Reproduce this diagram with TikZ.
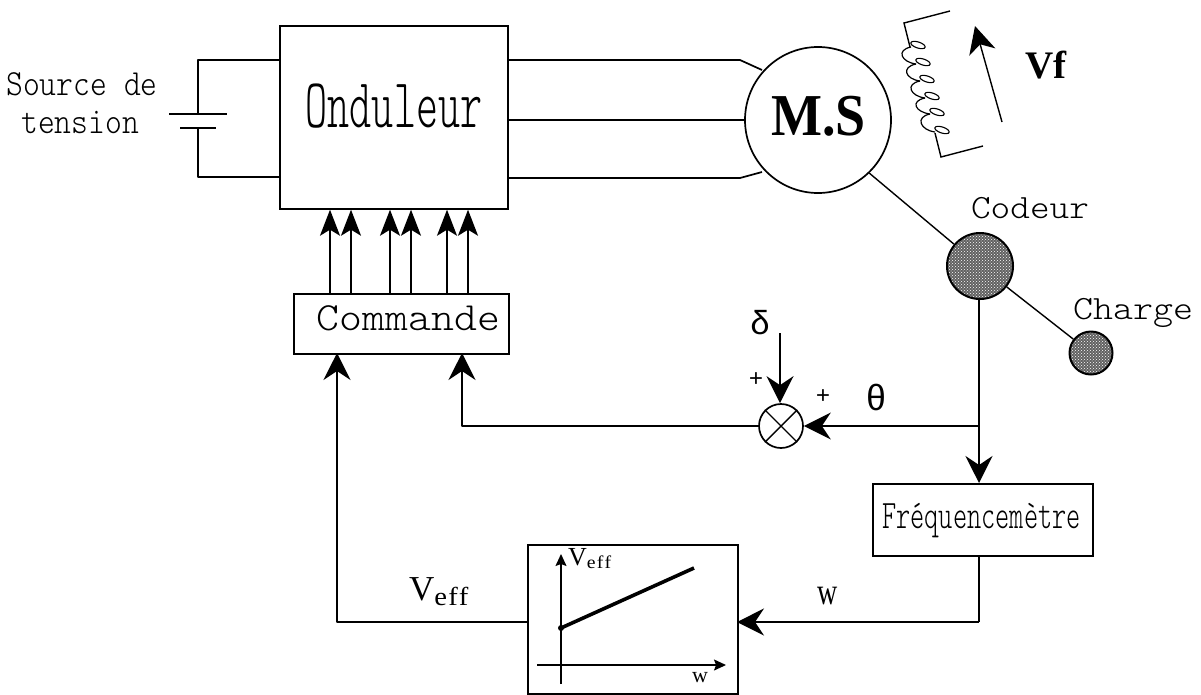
\documentclass[tikz,border=0pt]{standalone}
\usepackage{fontspec}
\setmainfont{Liberation Serif}
\setmonofont{Latin Modern Mono Light}
\newfontfamily\lmono{Liberation Mono}
\usetikzlibrary{arrows.meta,calc,patterns}
\newcommand{\monot}[4]{\scalebox{#2}[#3]{\fontsize{#1}{#1}\selectfont\ttfamily #4}}
\newcommand{\sertxt}[5]{\fontsize{#1}{#1}\selectfont V\raisebox{#5pt}{\scalebox{#3}[1]{\fontsize{#2}{#2}\selectfont e\kern#4pt f\kern#4pt f}}}
\tikzset{
  wire/.style={line width=1.7pt,line join=round},
  flow/.style={wire,-{Stealth[length=27pt,width=27pt,inset=9pt]}},
  cmdflow/.style={wire,-{Stealth[length=26pt,width=20pt,inset=6pt]}},
  smallflow/.style={line width=1.3pt,-{Stealth[length=12pt,width=11pt,inset=2pt]}},
  blockbox/.style={draw,line width=1.7pt,fill=white,inner sep=0pt,anchor=north west},
  txt/.style={inner sep=0pt,align=center},
  base/.style={inner sep=0pt,anchor=base},
  dither/.style={draw,circle,line width=2pt,preaction={fill=black!62},pattern=crosshatch dots,pattern color=white,inner sep=0pt}
}
\begin{document}
\begin{tikzpicture}[x=1pt,y=-1pt]
\useasboundingbox (0,0) rectangle (1201,694);
% blocks
\node[blockbox,minimum width=228pt,minimum height=183pt] (ond) at (279,25) {};
\node[base] (ondt) at (394,127) {\monot{42}{1}{1.67}{Onduleur}};
\node[blockbox,minimum width=215pt,minimum height=60pt] (com) at (293,293) {};
\node[base] (comt) at (408.5,330) {\monot{40}{1.09}{1}{Commande}};
\node[blockbox,minimum width=220pt,minimum height=72pt] (freq) at (872,483) {};
\node[base] (freqt) at (981.5,528) {\monot{27}{1}{1.5}{Fréquencemètre}};
\node[blockbox,minimum width=210pt,minimum height=149pt] (graph) at (527,544) {};
% machines
\node[draw,circle,line width=1.7pt,minimum size=146pt,inner sep=0pt] (ms) at (818,120) {};
\node[base] (mst) at (818.5,135) {\scalebox{1}[1.1]{\fontsize{54}{54}\selectfont\bfseries M.S}};
\node[dither,minimum size=66pt] (cod) at (980,266) {};
\node[dither,minimum size=43pt] (chg) at (1091,353) {};
\node[draw,circle,line width=1.7pt,fill=white,minimum size=44pt,inner sep=0pt] (sum) at (781,426) {};
\draw[line width=1.4pt] (sum.north west)--(sum.south east) (sum.north east)--(sum.south west);
% source
\node[base] (srca) at (82,95) {\monot{32}{1}{1.15}{Source de}};
\node[base] (srcb) at (80,133) {\monot{32}{1}{1.15}{tension}};
\coordinate (plA) at (198,114);
\coordinate (plB) at (198,128);
\coordinate (oa) at (279,60);
\coordinate (ob) at (279,177);
\draw[wire] (oa) -- (198,60) -- (plA);
\draw[wire] (ob) -- (198,177) -- (plB);
\draw[line width=1.3pt] ($(plA)+(-29,0)$) -- ($(plA)+(29,0)$);
\draw[line width=2pt] ($(plB)+(-18,0)$) -- ($(plB)+(18,0)$);
% phases
\coordinate (p1) at (507,60);
\coordinate (p2) at (507,120);
\coordinate (p3) at (507,178);
\draw[wire] (p1) -- (740,60) -- (762,70);
\draw[wire] (p2) -- (ms.west);
\draw[wire] (p3) -- (740,178) -- (762,172);
% shaft
\draw[line width=1.4pt] (ms.-46) -- (cod);
\draw[line width=1.4pt] (cod) -- (chg);
% field coil
\draw[line width=1.4pt] (950,11) -- (904,23) -- (910,47);
\draw[line width=1.4pt] (935,133) -- (941,157) -- (983,146);
\foreach \i/\x/\y in {1/918/45,2/923/62,3/927/79,4/932/96,5/937/112,6/942/130}{
  \draw[line width=1.1pt,rotate around={-18:(\x,\y)}] (\x,\y) ellipse (7.5pt and 3pt);
  \coordinate (e\i) at (\x-7,\y+2);
}
\foreach \a/\b in {e1/e2,e2/e3,e3/e4,e4/e5,e5/e6}{
  \draw[line width=1.2pt] (\a) .. controls ($(\a)+(-15,3)$) and ($(\b)+(-15,-2)$) .. (\b);
}
\coordinate (vfA) at (1002,122);
\coordinate (vfB) at (975,26);
\draw[line width=1.4pt,-{Stealth[length=27pt,width=27pt,inset=8pt]}] (vfA) -- (vfB);
\node[inner sep=0pt,anchor=base west] (vf) at (1025,78) {\fontsize{39}{39}\selectfont\bfseries Vf};
% labels
\node[base] (codt) at (1030,218) {\monot{34}{1.1}{1}{Codeur}};
\node[base] (chgt) at (1133,319) {\monot{34}{1.12}{1}{Charge}};
\node[txt] (dl) at (760,323) {\scalebox{1.15}{\fontsize{29}{29}\selectfont\lmono δ}};
\coordinate (dtop) at (780,333);
\node[txt] (pa) at (756,380) {\fontsize{24}{24}\selectfont\lmono +};
\node[txt] (pb) at (823,397) {\fontsize{24}{24}\selectfont\lmono +};
\node[txt] (th) at (876,397) {\scalebox{1.25}[1.3]{\fontsize{28}{28}\selectfont\lmono θ}};
\node[base] (wl) at (828,604) {\scalebox{1}[1.35]{\fontsize{28}{28}\selectfont w}};
\node[inner sep=0pt,anchor=base west] (vl) at (409,600) {\sertxt{35}{26}{1.1}{1}{-5}};
% command arrows
\foreach \n/\x in {a/330,b/351,c/390,d/411,e/447,f/468}{
  \coordinate (\n) at (\x,293);
  \draw[cmdflow] (\n) -- (\n |- ond.south);
}
% feedback
\coordinate (bJ) at (979,426);
\draw[wire] (cod.south -| bJ) -- (bJ);
\draw[flow] (bJ) -- (bJ |- freq.north);
\draw[flow] (bJ) -- (sum.east);
\draw[flow] (dtop) -- (sum.north -| dtop);
\coordinate (cin) at (462,353);
\draw[flow] (sum.west) -- (cin |- sum) -- (cin);
\coordinate (fb) at (979,555);
\coordinate (gIn) at (737,622);
\draw[wire] (fb) -- (fb |- gIn);
\draw[flow] (fb |- gIn) -- (gIn);
\coordinate (gOut) at (527,622);
\coordinate (cin2) at (337,353);
\draw[flow] (gOut) -- (cin2 |- gOut) -- (cin2);
% graph
\coordinate (xa) at (537,665);
\coordinate (xb) at (726,665);
\coordinate (ya) at (561,684);
\coordinate (yb) at (561,554);
\draw[smallflow] (xa) -- (xb);
\draw[smallflow] (ya) -- (yb);
\coordinate (l1) at (561,628);
\coordinate (l2) at (694,568);
\draw[line width=3.6pt] (l1) -- (l2);
\fill (l1) circle (3pt);
\node[inner sep=0pt,anchor=base west] (gv) at (568,565) {\sertxt{26}{18}{1.1}{1}{-3}};
\node[txt] (gw) at (700,678) {\fontsize{22}{22}\selectfont w};
\end{tikzpicture}
\end{document}
